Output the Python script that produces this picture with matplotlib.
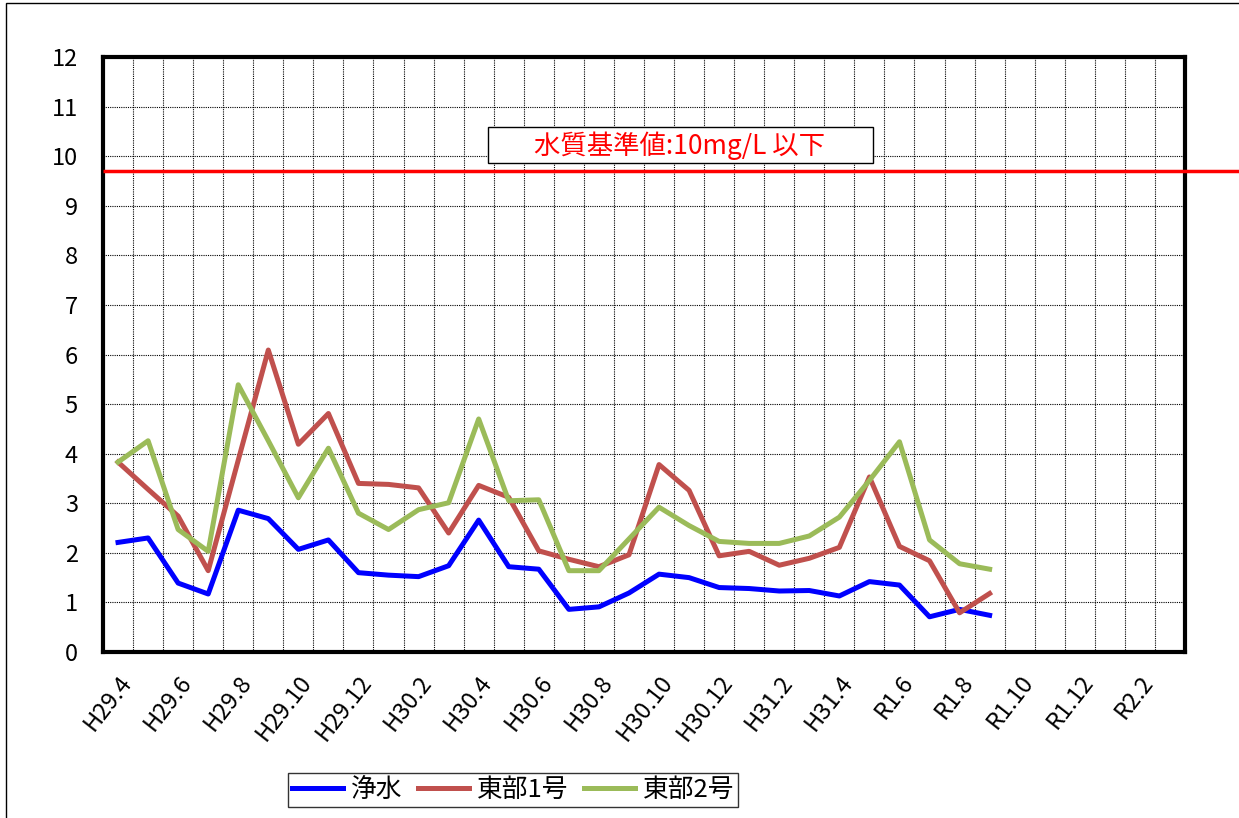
import matplotlib.pyplot as plt
from matplotlib.patches import Rectangle

plt.rcParams['font.family'] = ['Noto Sans CJK JP', 'DejaVu Sans']

# Months H29.4 .. R2.3 (36 months), every second one labelled
months = ['H29.4', 'H29.5', 'H29.6', 'H29.7', 'H29.8', 'H29.9', 'H29.10', 'H29.11', 'H29.12',
          'H30.1', 'H30.2', 'H30.3', 'H30.4', 'H30.5', 'H30.6', 'H30.7', 'H30.8', 'H30.9',
          'H30.10', 'H30.11', 'H30.12', 'H31.1', 'H31.2', 'H31.3', 'H31.4', 'R1.5', 'R1.6',
          'R1.7', 'R1.8', 'R1.9', 'R1.10', 'R1.11', 'R1.12', 'R2.1', 'R2.2', 'R2.3']
tick_labels = ['H29.4', 'H29.6', 'H29.8', 'H29.10', 'H29.12', 'H30.2', 'H30.4', 'H30.6', 'H30.8',
               'H30.10', 'H30.12', 'H31.2', 'H31.4', 'R1.6', 'R1.8', 'R1.10', 'R1.12', 'R2.2']

josui = [2.21, 2.30, 1.39, 1.17, 2.86, 2.69, 2.07, 2.26, 1.60, 1.55, 1.52, 1.74, 2.66,
         1.72, 1.67, 0.86, 0.91, 1.19, 1.57, 1.50, 1.30, 1.28, 1.23, 1.24, 1.13, 1.42,
         1.35, 0.71, 0.86, 0.74]
tobu1 = [3.83, 3.28, 2.74, 1.64, 3.87, 6.09, 4.19, 4.81, 3.40, 3.38, 3.31, 2.40, 3.36,
         3.12, 2.04, 1.87, 1.72, 1.96, 3.78, 3.26, 1.94, 2.03, 1.75, 1.89, 2.11, 3.53,
         2.13, 1.84, 0.79, 1.18]
tobu2 = [3.83, 4.26, 2.47, 2.03, 5.39, 4.26, 3.11, 4.11, 2.80, 2.47, 2.87, 3.01, 4.70,
         3.05, 3.07, 1.64, 1.64, 2.28, 2.92, 2.55, 2.23, 2.19, 2.19, 2.34, 2.72, 3.46,
         4.24, 2.26, 1.78, 1.67]
standard = 9.7

fig = plt.figure(figsize=(12.39, 8.18), dpi=100)
ax = fig.add_axes([103 / 1239, 1 - 652 / 818, 1082 / 1239, 595 / 818])

x = list(range(len(josui)))
ax.plot(x, josui, color='#0000FF', lw=3.6, label='浄水', solid_joinstyle='round')
ax.plot(x, tobu1, color='#C0504D', lw=3.6, label='東部1号', solid_joinstyle='round')
ax.plot(x, tobu2, color='#9BBB59', lw=3.6, label='東部2号', solid_joinstyle='round')

# standard line runs past the plot edge
ax.hlines(standard, -0.5, 40, color='#FF0000', lw=2.5, clip_on=False, zorder=5)

# label box for the standard
fig.patches.append(Rectangle((488 / 1239, 1 - 163 / 818), 385 / 1239, 36 / 818,
                             transform=fig.transFigure, facecolor='white',
                             edgecolor='black', lw=1, zorder=3))
fig.text(680 / 1239, 1 - 146 / 818, '水質基準値:10mg/L 以下', color='#FF0000',
         fontsize=19, ha='center', va='center', zorder=4)

ax.set_xlim(-0.5, len(months) - 0.5)
ax.set_ylim(0, 12)
ax.set_yticks(range(0, 13))
ax.tick_params(axis='y', labelsize=17, length=0, pad=18)

ax.set_xticks(range(0, len(months), 2))
ax.set_xticklabels(tick_labels, rotation=52, ha='right', va='top', rotation_mode='anchor',
                   fontsize=17)
ax.tick_params(axis='x', length=0, pad=14)

# month boundaries as grid
ax.set_xticks([i - 0.5 for i in range(len(months) + 1)], minor=True)
ax.grid(which='minor', axis='x', color='black', ls=(0, (1, 1)), lw=0.8)
ax.grid(which='major', axis='y', color='black', ls=(0, (1, 1)), lw=0.8)
ax.tick_params(which='minor', length=0)

for s in ax.spines.values():
    s.set_linewidth(3)

leg = fig.legend(loc='center', bbox_to_anchor=(513 / 1239, 1 - 790 / 818), ncol=3,
                 fontsize=18.5, frameon=True, fancybox=False, edgecolor='black',
                 handlelength=2.0, columnspacing=0.6, handletextpad=0.3, borderpad=0.15)
leg.get_frame().set_linewidth(1)

fig.patches.append(Rectangle((6 / 1239, -0.1), 1.2, 1.1 - 3 / 818, transform=fig.transFigure,
                             fill=False, edgecolor='black', lw=1))

fig.savefig('out.png', dpi=100)
